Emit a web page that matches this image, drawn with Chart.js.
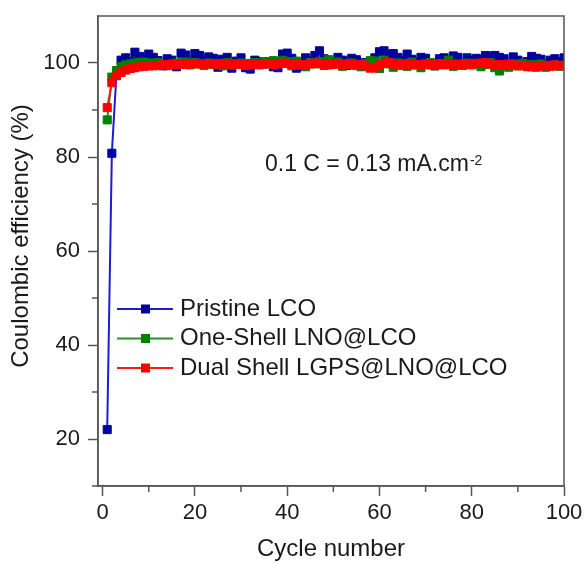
<!DOCTYPE html>
<html>
<head>
<meta charset="utf-8">
<title>Coulombic efficiency vs cycle number</title>
<script src="https://cdn.jsdelivr.net/npm/chart.js@4.4.1/dist/chart.umd.min.js"></script>
<style>
  body { margin: 0; background: #fff; }
  #wrap { width: 584px; height: 564px; }
</style>
</head>
<body>
<div id="wrap"><canvas id="ceChart"></canvas></div>
<script>
'use strict';

// ***** DATA *****
let cycles = [
  1, 2, 3, 4, 5, 6, 7, 8, 9, 10, 11, 12, 13, 14, 15, 16, 17, 18, 19, 20,
  21, 22, 23, 24, 25, 26, 27, 28, 29, 30, 31, 32, 33, 34, 35, 36, 37, 38, 39, 40,
  41, 42, 43, 44, 45, 46, 47, 48, 49, 50, 51, 52, 53, 54, 55, 56, 57, 58, 59, 60,
  61, 62, 63, 64, 65, 66, 67, 68, 69, 70, 71, 72, 73, 74, 75, 76, 77, 78, 79, 80,
  81, 82, 83, 84, 85, 86, 87, 88, 89, 90, 91, 92, 93, 94, 95, 96, 97, 98, 99, 100
];

let pristine = [
  22.0, 80.8, 97.6, 100.6, 101.1, 100.4, 102.3, 101.4, 101.0, 101.9,
  101.2, 100.5, 99.4, 100.9, 100.6, 99.2, 102.1, 101.7, 100.2, 102.0,
  101.6, 100.3, 101.3, 101.0, 99.1, 100.8, 101.2, 98.9, 100.4, 101.1,
  99.0, 98.7, 100.6, 100.3, 99.8, 100.2, 99.2, 99.0, 101.9, 102.1,
  101.0, 98.9, 99.3, 101.1, 100.4, 101.6, 102.6, 100.9, 99.6, 100.2,
  101.2, 100.6, 99.5, 101.0, 100.7, 99.4, 100.1, 99.3, 101.1, 102.4,
  102.6, 101.8, 102.0, 101.2, 100.6, 101.9, 100.8, 100.2, 101.2, 101.0,
  100.0, 99.4, 100.9, 101.1, 99.8, 101.5, 101.2, 99.6, 101.1, 100.5,
  101.0, 100.4, 101.6, 101.3, 101.6, 101.2, 100.9, 99.6, 101.3, 100.6,
  99.5, 100.3, 101.4, 101.0, 100.8, 99.8, 100.6, 100.9, 100.3, 101.1
];

let oneShell = [
  87.9, 97.0, 98.4, 99.2, 99.6, 99.8, 100.0, 100.1, 100.2, 100.0,
  99.9, 100.1, 99.7, 99.4, 99.8, 100.0, 99.9, 100.2, 99.6, 100.1,
  99.8, 99.5, 100.0, 99.7, 99.9, 99.4, 100.1, 99.6, 99.8, 100.0,
  99.5, 99.9, 100.1, 99.7, 100.3, 99.8, 100.5, 100.2, 100.6, 100.3,
  99.4, 100.4, 99.7, 99.2, 100.1, 99.8, 100.3, 99.5, 100.7, 99.9,
  100.2, 99.3, 99.8, 100.0, 99.6, 99.2, 99.9, 100.5, 100.4, 98.8,
  100.6, 99.8, 99.1, 100.0, 99.5, 99.3, 100.2, 99.6, 99.0, 99.8,
  100.1, 99.4, 99.7, 99.9, 100.6, 99.3, 99.8, 99.5, 100.0, 99.6,
  99.9, 99.2, 99.7, 100.1, 99.0, 98.3, 99.6, 99.1, 99.8, 99.4,
  99.9, 99.2, 99.7, 99.5, 99.8, 99.1, 99.4, 99.6, 99.3, 99.5
];

let dualShell = [
  90.5, 95.8, 97.3, 98.0, 98.5, 98.8, 99.0, 99.2, 99.3, 99.4,
  99.4, 99.5, 99.6, 99.6, 99.7, 99.7, 99.8, 99.7, 99.8, 99.9,
  99.8, 99.7, 99.9, 99.8, 99.7, 99.9, 99.8, 99.6, 99.8, 99.7,
  99.5, 99.7, 99.8, 99.6, 99.8, 99.9, 99.7, 99.8, 100.0, 99.9,
  99.7, 99.8, 99.6, 99.7, 99.8, 100.0, 99.9, 99.6, 99.8, 99.7,
  99.9, 99.6, 99.8, 99.7, 99.5, 99.7, 99.4, 98.9, 99.0, 99.6,
  99.9, 100.1, 99.8, 99.6, 99.7, 99.9, 99.6, 99.7, 99.5, 99.8,
  99.6, 99.7, 99.9, 99.6, 99.8, 99.5, 99.7, 99.6, 99.8, 99.7,
  99.9, 100.0, 100.1, 99.8, 99.6, 99.7, 99.5, 99.8, 99.6, 99.4,
  99.5, 99.3, 99.2, 99.1, 99.4, 99.5, 99.3, 99.6, 99.4, 99.5
];

let seriesNames = ['Pristine LCO', 'One-Shell LNO@LCO', 'Dual Shell LGPS@LNO@LCO'];

let xMajorTicks = [0, 20, 40, 60, 80, 100];
let xMinorTicks = [10, 30, 50, 70, 90];
let yMajorTicks = [20, 40, 60, 80, 100];
let yMinorTicks = [10, 30, 50, 70, 90];

// ***** STYLE *****
const FONT = "'Liberation Sans', Arial, sans-serif";
const TEXT = '#1a1a1a';
const AXIS = '#555555';

Chart.defaults.font.family = FONT;
Chart.defaults.color = TEXT;

// ***** HELPERS *****
function toPoints(values){
  let points = [];
  for(let i = 0; i < values.length; i++){
    points.push({x: cycles[i], y: values[i]});
  }
  return points;
}

function makeSeries(name, values, lineColor, markColor, order){
  return {
    label: name,
    data: toPoints(values),
    borderColor: lineColor,
    borderWidth: 2,
    pointStyle: 'rect',
    pointRadius: 5.7,
    pointBackgroundColor: markColor,
    pointBorderColor: markColor,
    pointBorderWidth: 1,
    tension: 0,
    order: order
  };
}

// box, minor ticks, y title, inset legend and the current-density note
const framePlugin = {
  id: 'frame',
  afterDraw(chart){
    const ctx = chart.ctx;
    const area = chart.chartArea;
    const xs = chart.scales.x;
    const ys = chart.scales.y;

    ctx.save();
    ctx.strokeStyle = AXIS;
    ctx.lineWidth = 1.5;
    ctx.strokeRect(area.left, area.top, area.right - area.left, area.bottom - area.top);

    ctx.beginPath();
    for(let i = 0; i < yMinorTicks.length; i++){
      let y = ys.getPixelForValue(yMinorTicks[i]);
      ctx.moveTo(area.left - 6, y);
      ctx.lineTo(area.left, y);
    }
    for(let i = 0; i < xMinorTicks.length; i++){
      let x = xs.getPixelForValue(xMinorTicks[i]);
      ctx.moveTo(x, area.bottom);
      ctx.lineTo(x, area.bottom + 6);
    }
    ctx.stroke();

    // y axis title
    ctx.fillStyle = TEXT;
    ctx.font = '24px ' + FONT;
    ctx.textAlign = 'center';
    ctx.textBaseline = 'middle';
    ctx.translate(21, 236);
    ctx.rotate(-Math.PI / 2);
    ctx.fillText('Coulombic efficiency (%)', 0, 0);
    ctx.restore();

    // legend
    ctx.save();
    let sets = chart.data.datasets;
    for(let i = 0; i < sets.length; i++){
      let y = 309 + i * 29.5;
      let x0 = area.left + 19;
      ctx.strokeStyle = sets[i].borderColor;
      ctx.lineWidth = 2;
      ctx.beginPath();
      ctx.moveTo(x0, y);
      ctx.lineTo(x0 + 56, y);
      ctx.stroke();
      ctx.fillStyle = sets[i].pointBackgroundColor;
      ctx.fillRect(x0 + 24, y - 4.5, 9, 9);
      ctx.fillStyle = TEXT;
      ctx.font = '24px ' + FONT;
      ctx.textAlign = 'left';
      ctx.textBaseline = 'middle';
      ctx.fillText(sets[i].label, x0 + 63, y);
    }

    // rate note with superscript
    ctx.font = '23px ' + FONT;
    ctx.textBaseline = 'alphabetic';
    let note = '0.1 C = 0.13 mA.cm';
    ctx.fillText(note, 265, 171);
    let w = ctx.measureText(note).width;
    ctx.font = '14px ' + FONT;
    ctx.fillText('-2', 265 + w + 1, 165);
    ctx.restore();
  }
};

// ***** CHART *****
const canvasElem = document.getElementById('ceChart');

new Chart(canvasElem, {
  type: 'line',
  data: {
    datasets: [
      makeSeries(seriesNames[0], pristine, '#1c1cd2', '#00009c', 3),
      makeSeries(seriesNames[1], oneShell, '#1f9a1f', '#008000', 2),
      makeSeries(seriesNames[2], dualShell, '#ff1a1a', '#ff0000', 1)
    ]
  },
  options: {
    responsive: true,
    maintainAspectRatio: false,
    animation: false,
    layout: {
      padding: {left: 0, right: 20, top: 16, bottom: 0}
    },
    plugins: {
      legend: {display: false},
      tooltip: {enabled: false}
    },
    scales: {
      x: {
        type: 'linear',
        min: -1,
        max: 100,
        afterBuildTicks(scale){
          scale.ticks = xMajorTicks.map(v => ({value: v}));
        },
        afterFit(scale){
          scale.height = 78;
          scale.paddingLeft = 0;
          scale.paddingRight = 0;
        },
        ticks: {
          font: {size: 22},
          padding: 4,
          maxRotation: 0,
          color: TEXT
        },
        grid: {
          drawOnChartArea: false,
          tickLength: 10,
          tickColor: AXIS,
          tickWidth: 1.5
        },
        border: {color: AXIS, width: 1.5},
        title: {
          display: true,
          text: 'Cycle number',
          font: {size: 24},
          color: TEXT,
          padding: {top: 0, bottom: 0}
        }
      },
      y: {
        type: 'linear',
        min: 10,
        max: 110,
        afterBuildTicks(scale){
          scale.ticks = yMajorTicks.map(v => ({value: v}));
        },
        afterFit(scale){
          scale.width = 98;
          scale.paddingTop = 0;
          scale.paddingBottom = 0;
        },
        ticks: {
          font: {size: 22},
          padding: 8,
          color: TEXT
        },
        grid: {
          drawOnChartArea: false,
          tickLength: 10,
          tickColor: AXIS,
          tickWidth: 1.5
        },
        border: {color: AXIS, width: 1.5}
      }
    }
  },
  plugins: [framePlugin]
});
</script>
</body>
</html>
